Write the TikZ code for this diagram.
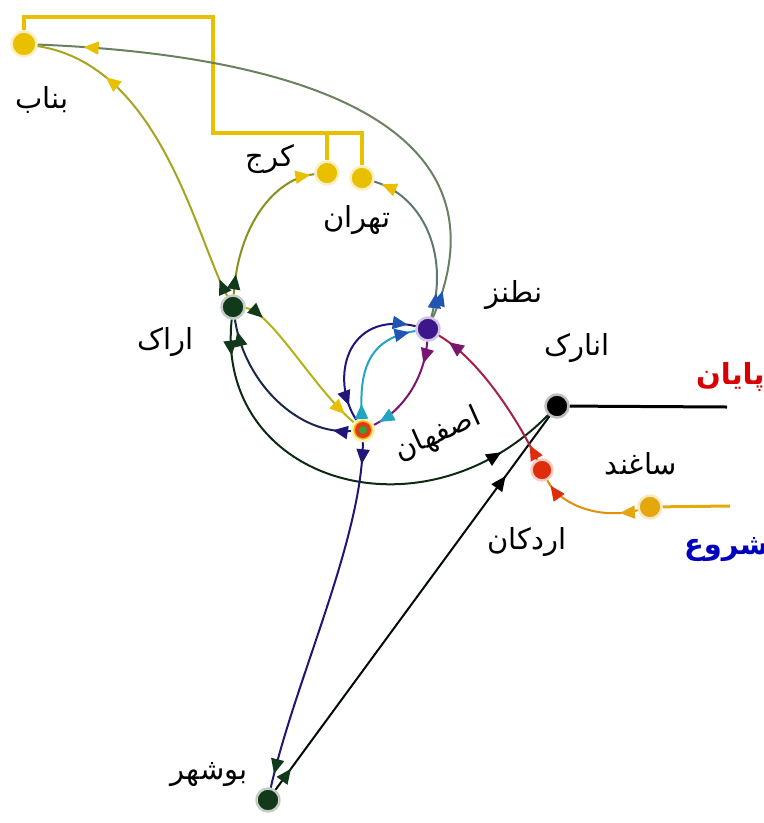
\documentclass[tikz,border=0pt]{standalone}
\usepackage{fontspec}
\usetikzlibrary{arrows.meta,decorations.markings}
\newfontfamily\persfont[Script=Arabic]{DejaVu Sans}
\TeXXeTstate=1
\newcommand{\fname}[1]{{\persfont\beginR #1\endR}}
\definecolor{gold}{RGB}{232,192,0}
\definecolor{dkgreen}{RGB}{18,58,26}
\definecolor{navyb}{RGB}{32,22,120}
\definecolor{routeblue}{RGB}{34,84,180}
\definecolor{tealb}{RGB}{34,165,195}
\definecolor{plum}{RGB}{120,22,112}
\definecolor{olivey}{RGB}{165,165,30}
\definecolor{rust}{RGB}{222,44,12}
\definecolor{amber}{RGB}{228,168,12}
\definecolor{indigo}{RGB}{62,22,140}
\tikzset{
  stn/.style={circle, inner sep=0pt, minimum size=23pt, fill=#1, draw=#1!25, line width=2.5pt},
  lbl/.style={font=\fontsize{29}{32}\selectfont},
  tipout/.store in=\tipout, tipout=24pt,
  tipin/.store in=\tipin, tipin=6pt,
  route/.style n args={3}{draw=#1, line width=2pt, postaction={decorate},
    decoration={markings,
      mark=at position \tipout with {\arrow{Triangle[length=15pt,width=13pt,color=#2]}},
      mark=at position -\tipin with {\arrow{Triangle[length=15pt,width=13pt,color=#3]}}}},
  broute/.style n args={3}{draw=#1, line width=2pt, postaction={decorate},
    decoration={markings,
      mark=at position \tipout with {\arrowreversed{Triangle[length=15pt,width=13pt,color=#2]}},
      mark=at position -\tipin with {\arrow{Triangle[length=15pt,width=13pt,color=#3]}}}},
  tree/.style={draw=gold, line width=3.5pt},
}
\begin{document}
\begin{tikzpicture}[x=1pt, y=-1pt]
  \useasboundingbox (0,0) rectangle (764,823);

  % stations
  \node[stn=gold, minimum size=25pt] (bonab) at (24,44) {};
  \node[stn=gold] (karaj) at (327,173) {};
  \node[stn=gold] (tehran) at (362,178) {};
  \node[stn=dkgreen] (arak) at (233,307) {};
  \node[stn=indigo] (natanz) at (428,329) {};
  \node[stn=gold, minimum size=22pt, path picture={
      \fill[red!55!brown] (path picture bounding box.center) circle (8pt);
      \fill[green!55!black!80] (path picture bounding box.center) circle (4pt);}] (isfahan) at (363,430) {};
  \node[stn=black] (anarak) at (557,406) {};
  \node[stn=rust, minimum size=21pt] (ardakan) at (542,470) {};
  \node[stn=amber] (saghand) at (650,507) {};
  \node[stn=dkgreen] (bushehr) at (268,800) {};
  \coordinate (finish) at (727,407);
  \coordinate (start) at (730,506);

  % labels
  \node[lbl] (lbonab) at (42,100) {\fname{بناب}};
  \node[lbl] (lkaraj) at (270,159) {\fname{کرج}};
  \node[lbl] (ltehran) at (357,220) {\fname{تهران}};
  \node[lbl] (larak) at (166,342) {\fname{اراک}};
  \node[lbl] (lnatanz) at (514,295) {\fname{نطنز}};
  \node[lbl, rotate=24] (lisfahan) at (438,435) {\fname{اصفهان}};
  \node[lbl] (lanarak) at (577,348) {\fname{انارک}};
  \node[lbl] (lsaghand) at (641,464) {\fname{ساغند}};
  \node[lbl] (lardakan) at (527,542) {\fname{اردکان}};
  \node[lbl] (lbushehr) at (209,775) {\fname{بوشهر}};
  \node[font=\bfseries\fontsize{29}{32}\selectfont, text=red!85!black, anchor=east] (lfinish) at (768,377) {\fname{پایان}};
  \node[font=\bfseries\fontsize{29}{32}\selectfont, text=blue!75!black, anchor=east] (lstart) at (772,550) {\fname{شروع}};

  % yellow branch
  \draw[tree] (bonab.north) -- (24,17) -- (213,17) -- (213,133) -- (362,133) -- (tehran.north);
  \draw[tree] (327,133) -- (karaj.north);

  % ends of the line
  \draw[line width=3pt] (anarak) -- (finish);
  \draw[line width=3pt, amber!90!gold] (start) -- (saghand);

  % routes
  \draw[route={routeblue!45!olivey}{routeblue}{gold}, tipout=28pt, tipin=46pt]
    (natanz) .. controls (515,125) and (300,55) .. (bonab);
  \draw[route={routeblue!55!olivey}{routeblue}{gold}, tipin=8pt]
    (natanz) .. controls (450,250) and (420,195) .. (tehran);
  \draw[route={olivey!80!dkgreen}{dkgreen}{gold}, tipout=20pt, tipin=4pt]
    (arak) .. controls (238,225) and (275,178) .. (karaj);
  \draw[route={olivey}{dkgreen}{gold}, tipout=18pt, tipin=76pt]
    (arak) .. controls (195,235) and (160,65) .. (bonab);
  \draw[route={olivey!85!yellow}{dkgreen}{gold}, tipout=20pt, tipin=12pt]
    (arak) .. controls (270,310) and (315,390) .. (isfahan);
  \draw[route={navyb!55!dkgreen}{navyb}{dkgreen}, tipout=18pt, tipin=12pt]
    (isfahan) .. controls (300,435) and (245,385) .. (arak);
  \draw[route={dkgreen!70!black}{dkgreen}{black}, tipout=36pt, tipin=60pt]
    (arak) .. controls (215,480) and (420,545) .. (anarak);
  \draw[route={navyb}{navyb}{dkgreen}, tipout=22pt, tipin=14pt]
    (isfahan) .. controls (362,540) and (295,680) .. (bushehr);
  \draw[route={black!85!dkgreen}{dkgreen}{black}, tipout=26pt, tipin=74pt]
    (bushehr) -- (anarak);
  \draw[broute={navyb}{routeblue}{navyb}, tipout=8pt, tipin=16pt]
    (natanz) .. controls (345,310) and (330,380) .. (isfahan);
  \draw[route={tealb}{tealb}{routeblue}, tipout=14pt, tipin=6pt]
    (isfahan) .. controls (358,365) and (372,338) .. (natanz);
  \draw[route={plum}{plum}{tealb}, tipout=22pt, tipin=6pt]
    (natanz) .. controls (425,375) and (405,410) .. (isfahan);
  \draw[route={rust!45!plum}{rust}{plum}, tipout=16pt, tipin=12pt]
    (ardakan) .. controls (518,420) and (480,360) .. (natanz);
  \draw[route={amber!80!rust}{amber}{rust}, tipout=18pt, tipin=6pt]
    (saghand) .. controls (600,520) and (560,505) .. (ardakan);
\end{tikzpicture}
\end{document}
